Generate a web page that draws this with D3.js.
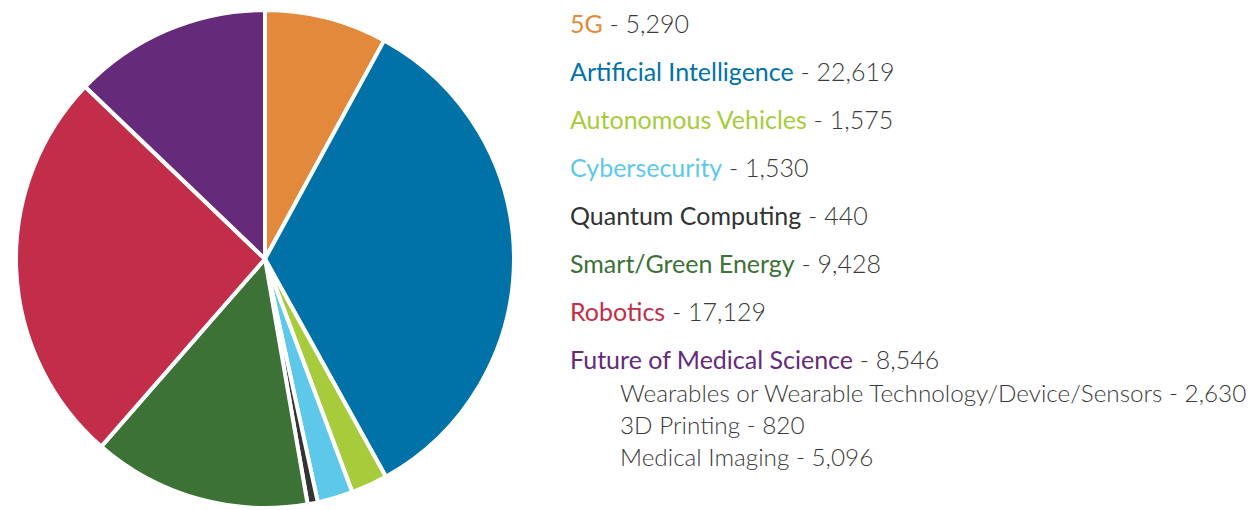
<!DOCTYPE html>
<html>
<head>
<meta charset="utf-8">
<script src="https://cdn.jsdelivr.net/npm/d3@7"></script>
<style>
  body { margin: 0; background: #fff; }
  svg { display: block; }
  .legend text { font-family: "Lato", "Open Sans", sans-serif; }
</style>
</head>
<body>
<div id="chart"></div>
<script>
// topics in pie order (clockwise from 12 o'clock)
var topics = ["5G", "Artificial Intelligence", "Autonomous Vehicles", "Cybersecurity",
  "Quantum Computing", "Smart/Green Energy", "Robotics", "Future of Medical Science"]
var counts = [5290, 22619, 1575, 1530, 440, 9428, 17129, 8546]
var colors = ["#e3893b", "#0072a8", "#a8cb3b", "#5ec8eb", "#333333", "#3c7236", "#c22d4a", "#652a7a"]

// breakdown of the last topic
var subTopics = ["Wearables or Wearable Technology/Device/Sensors", "3D Printing", "Medical Imaging"]
var subCounts = [2630, 820, 5096]

var sourceNote = "Source: IEEE Xplore Digital Library, April 2021"

var width = 1251,
  height = 510

var svg = d3.select("#chart")
  .append("svg")
    .attr("width", width)
    .attr("height", height)

var data = topics.map(function(t, i) {
  return {name: t, value: counts[i], color: colors[i]}
})

var pie = d3.pie()
  .sort(null)
  .value(function(d) { return d.value })

var arc = d3.arc()
  .innerRadius(0)
  .outerRadius(249)

var pieG = svg.append("g")
  .attr("transform", "translate(265,259)")

pieG.selectAll("path")
  .data(pie(data))
  .enter()
  .append("path")
    .attr("d", arc)
    .attr("fill", function(d) { return d.data.color })
    .attr("stroke", "#fff")
    .attr("stroke-width", 4)
    .attr("stroke-linejoin", "round")

var fmt = d3.format(",")

// legend
var legend = svg.append("g")
  .attr("class", "legend")
  .attr("transform", "translate(570,0)")

var rowY = d3.scaleLinear().domain([0, 1]).range([33, 81])

legend.selectAll("text.main")
  .data(data)
  .enter()
  .append("text")
    .attr("class", "main")
    .attr("x", 0)
    .attr("y", function(d, i) { return rowY(i) })
    .style("font-size", "25px")
    .each(function(d) {
      var t = d3.select(this)
      t.append("tspan")
        .attr("fill", d.color)
        .text(d.name)
      t.append("tspan")
        .attr("fill", "#3a3a3a")
        .style("font-weight", 300)
        .text(" - " + fmt(d.value))
    })

var subY = d3.scaleLinear().domain([0, 1]).range([402, 434])

legend.selectAll("text.sub")
  .data(subTopics)
  .enter()
  .append("text")
    .attr("class", "sub")
    .attr("x", 50)
    .attr("y", function(d, i) { return subY(i) })
    .attr("fill", "#3a3a3a")
    .style("font-size", "24.3px")
    .style("font-weight", 300)
    .text(function(d, i) { return d + " - " + fmt(subCounts[i]) })

legend.append("text")
  .attr("x", 0)
  .attr("y", 521)
  .attr("fill", "#555")
  .style("font-size", "16px")
  .text(sourceNote)
</script>
</body>
</html>
